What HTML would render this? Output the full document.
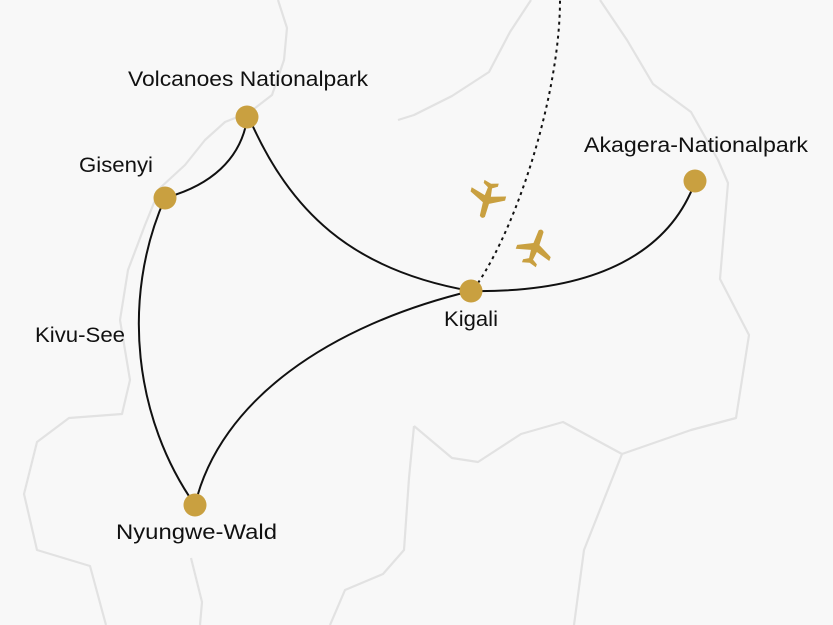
<!DOCTYPE html>
<html><head><meta charset="utf-8"><style>
html,body{margin:0;padding:0;background:#f8f8f8;}
svg{display:block;}
text{font-family:"Liberation Sans",sans-serif;font-size:21px;fill:#111;}
</style></head><body>
<svg width="833" height="625" viewBox="0 0 833 625" xmlns="http://www.w3.org/2000/svg">
<rect width="833" height="625" fill="#f8f8f8"/>
<g fill="none" stroke="#e2e2e2" stroke-width="2.2" stroke-linejoin="round">
<polyline points="278,0 287,28 284,60 272,95 250,112 225,122 205,140 185,165 160,188 145,225 128,270 120,320 130,380 122,414 69,418 37,442 24,494 37,550 90,566 106,625"/>
<polyline points="398,120 414,115 452,96 489,72 510,32 531,0"/>
<polyline points="600,0 627,40 653,84 691,112 718,160 728,183 720,279 749,335 736,418 691,430 622,454 584,550 574,625"/>
<polyline points="414,426 409,478 404,550 383,574 345,590 330,625"/>
<polyline points="414,426 452,458 478,462 521,434 563,422 622,454"/>
<polyline points="191,558 202,602 200,625"/>
</g>
<g fill="none" stroke="#111" stroke-width="2">
<path d="M168,197 C210,185 240,160 247,120"/>
<path d="M250,120 C290,210 350,270 471,291"/>
<path d="M471,291 C600,293 670,250 695,182"/>
<path d="M471,291 C330,325 220,400 195,505"/>
<path d="M165,198 C120,300 135,420 195,505"/>
<path d="M478,283 C520,220 560,90 560,0" stroke-dasharray="3,4"/>
</g>
<g fill="#c9a040">
<circle cx="247" cy="117" r="11.5"/>
<circle cx="165" cy="198" r="11.5"/>
<circle cx="471" cy="291" r="11.5"/>
<circle cx="695" cy="181" r="11.5"/>
<circle cx="195" cy="505" r="11.5"/>
<g transform="translate(487,199) rotate(195) scale(1.05)">
<path d="M-2.5,-17 Q0,-20 2.5,-17 L3,-4 L17,3 L17,7 L3,3 L2,11 L7,14 L7,17 L0,15 L-7,17 L-7,14 L-2,11 L-3,3 L-17,7 L-17,3 L-3,-4 Z"/>
</g>
<g transform="translate(535,248) rotate(20) scale(1.05)">
<path d="M-2.5,-17 Q0,-20 2.5,-17 L3,-4 L17,3 L17,7 L3,3 L2,11 L7,14 L7,17 L0,15 L-7,17 L-7,14 L-2,11 L-3,3 L-17,7 L-17,3 L-3,-4 Z"/>
</g>
</g>
<text x="128" y="86" textLength="240" lengthAdjust="spacingAndGlyphs">Volcanoes Nationalpark</text>
<text x="79" y="172" textLength="74" lengthAdjust="spacingAndGlyphs">Gisenyi</text>
<text x="584" y="152" textLength="224" lengthAdjust="spacingAndGlyphs">Akagera-Nationalpark</text>
<text x="444" y="326" textLength="54" lengthAdjust="spacingAndGlyphs">Kigali</text>
<text x="35" y="342" textLength="90" lengthAdjust="spacingAndGlyphs">Kivu-See</text>
<text x="116" y="539" textLength="161" lengthAdjust="spacingAndGlyphs">Nyungwe-Wald</text>
</svg>
</body></html>
